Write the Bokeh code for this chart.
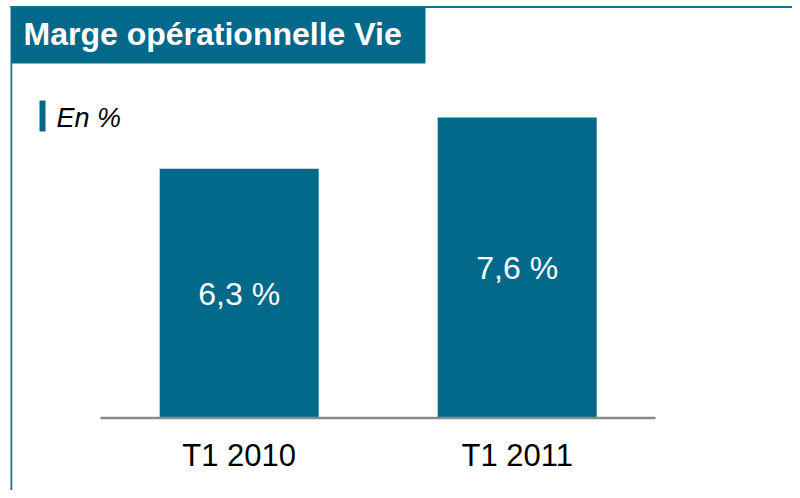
from bokeh.plotting import figure
from bokeh.models import Range1d, BoxAnnotation, ColumnDataSource
from bokeh.core.properties import value
from bokeh.embed import file_html
from bokeh.resources import INLINE

# ---- data ----
categories = ["T1 2010", "T1 2011"]
margins = [6.3, 7.6]
value_labels = ["6,3 %", "7,6 %"]
title_text = "Marge opérationnelle Vie"
subtitle_text = "En %"

# ---- layout constants (pixels) ----
W, H = 792, 490
SX = 278.0                   # px per category step
SY = 39.4                    # px per percentage point
X0_PX = 238.7                # x of first category centre
Y0_PX = 416.5                # y of the zero line

x_start = -X0_PX / SX
x_end = x_start + W / SX
y_end = Y0_PX / SY
y_start = y_end - H / SY


def px2x(px):
    return x_start + px / SX


def px2y(py):
    return y_end - py / SY


TEAL = "#02698B"
BORDER = "#1D6F8E"
FONT = "Liberation Sans"

p = figure(width=W, height=H, output_backend="svg", toolbar_location=None,
           x_range=Range1d(x_start, x_end), y_range=Range1d(y_start, y_end),
           min_border=0, outline_line_color=None)
p.axis.visible = False
p.grid.visible = False
p.background_fill_color = "white"
p.border_fill_color = "white"

idx = list(range(len(categories)))
src = ColumnDataSource(dict(x=idx, top=margins, mid=[m / 2 for m in margins],
                            lab=value_labels, cat=categories, zero=[0] * len(idx)))


def box(l, r, t, b, color):
    p.add_layout(BoxAnnotation(left=px2x(l), right=px2x(r), top=px2y(t), bottom=px2y(b),
                               fill_color=color, fill_alpha=1, line_color=None,
                               level="underlay"))


# frame lines
box(10, 800, 5.5, 7.5, BORDER)
box(10, 11.8, 5.5, 500, BORDER)

# title box
box(11, 425, 7, 63, TEAL)
p.text(x=[px2x(23)], y=[px2y(33.5)], text=[title_text], text_color="white",
       text_font=value(FONT), text_font_style="bold", text_font_size="32px",
       text_baseline="middle", text_align="left")

# subtitle
box(39, 45, 100, 131, TEAL)
p.text(x=[px2x(56)], y=[px2y(117.5)], text=[subtitle_text], text_color="black",
       text_font=value(FONT), text_font_style="italic", text_font_size="27px",
       text_baseline="middle", text_align="left")

# bars
p.vbar(x="x", top="top", bottom=0, width=159 / SX, source=src,
       fill_color=TEAL, line_color=None)

# zero line
p.segment(x0=px2x(100), x1=px2x(655), y0=-1 / SY, y1=-1 / SY,
          line_color="#8A8A8A", line_width=2.5)

# value labels
p.text(x="x", y="mid", text="lab", source=src, text_color="white",
       text_font=value(FONT), text_font_size="32px", text_align="center",
       text_baseline="middle", y_offset=1)

# category labels
p.text(x="x", y="zero", text="cat", source=src, text_color="black",
       text_font=value(FONT), text_font_size="31px", text_align="center",
       text_baseline="middle", y_offset=38)

open("out.html", "w").write(file_html(p, INLINE))
